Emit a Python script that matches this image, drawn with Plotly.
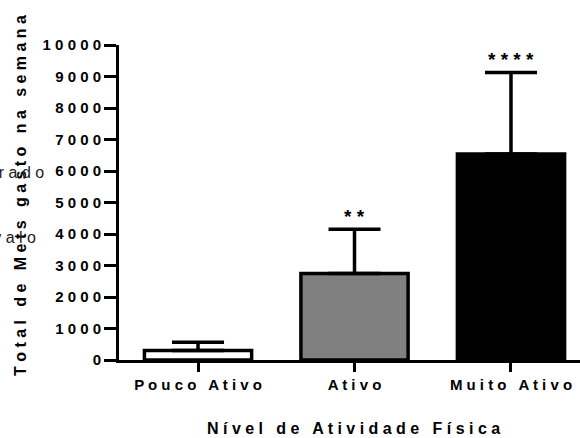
import plotly.graph_objects as go

categories = ["Pouco Ativo", "Ativo", "Muito Ativo"]
means = [300, 2750, 6540]
sds = [260, 1400, 2590]
fills = ["#ffffff", "#808080", "#000000"]
stars = ["", "**", "****"]
y_ticks = list(range(0, 10001, 1000))

FONT = "Arial, Liberation Sans, sans-serif"


def spaced(s, gap=" "):
    return gap.join(s.replace(" ", "\u00a0"))


x = list(range(len(categories)))

fig = go.Figure()
fig.add_trace(go.Bar(
    x=x, y=means, width=0.685,
    marker=dict(color=fills, line=dict(color="black", width=3.5)),
    error_y=dict(type="data", array=sds, arrayminus=[0] * len(sds), symmetric=False,
                 thickness=3.5, width=26, color="black"),
    showlegend=False,
))

annotations = []
for xi, m, s, st in zip(x, means, sds, stars):
    if st:
        annotations.append(dict(
            x=xi, y=m + s, xref="x", yref="y", text=spaced(st, "\u00a0"),
            showarrow=False, yanchor="bottom", yshift=0,
            font=dict(family=FONT, size=19, color="black", weight="bold")))

# rotated y title
annotations.append(dict(
    x=(20 - 119) / 461, y=(360 - 196) / 315, xref="paper", yref="paper",
    text="<b>" + spaced("Total de Mets gasto na semana") + "</b>",
    textangle=-90, showarrow=False, xanchor="center", yanchor="middle",
    font=dict(family=FONT, size=16, color="black")))
# x title
annotations.append(dict(
    x=(353 - 119) / 461, y=(360 - 428) / 315, xref="paper", yref="paper",
    text="<b>" + spaced("Nível de Atividade Física") + "</b>",
    showarrow=False, xanchor="center", yanchor="middle",
    font=dict(family=FONT, size=16, color="black")))
# cut-off labels at the left edge
annotations.append(dict(
    x=(46 - 119) / 461, y=(360 - 172) / 315, xref="paper", yref="paper",
    text=spaced("Moderado"), showarrow=False, xanchor="right", yanchor="middle",
    font=dict(family=FONT, size=16, color="#222222")))
annotations.append(dict(
    x=(38 - 119) / 461, y=(360 - 237) / 315, xref="paper", yref="paper",
    text=spaced("Intervalo"), showarrow=False, xanchor="right", yanchor="middle",
    font=dict(family=FONT, size=16, color="#222222")))

fig.update_layout(
    width=580, height=438,
    margin=dict(l=119, r=0, t=45, b=78, pad=0),
    paper_bgcolor="white", plot_bgcolor="white",
    font=dict(family=FONT, color="black"),
    annotations=annotations,
    xaxis=dict(range=[-0.505, 2.441], tickvals=x,
               ticktext=["<b>" + spaced(c) + "</b>" for c in categories],
               showline=True, linecolor="black", linewidth=3,
               ticks="outside", ticklen=9, tickwidth=3, tickcolor="black",
               showgrid=False, zeroline=False,
               tickfont=dict(family=FONT, size=15, color="black")),
    yaxis=dict(range=[0, 10000], tickvals=y_ticks,
               ticktext=["<b>" + spaced(str(v)) + "</b>" for v in y_ticks],
               showline=True, linecolor="black", linewidth=3,
               ticks="outside", ticklen=12, tickwidth=3, tickcolor="black",
               showgrid=False, zeroline=False,
               tickfont=dict(family=FONT, size=15, color="black")),
)

fig.write_html("out.html", config={"displayModeBar": False},
               post_script="document.body.style.margin='0';document.body.style.overflow='hidden';")
